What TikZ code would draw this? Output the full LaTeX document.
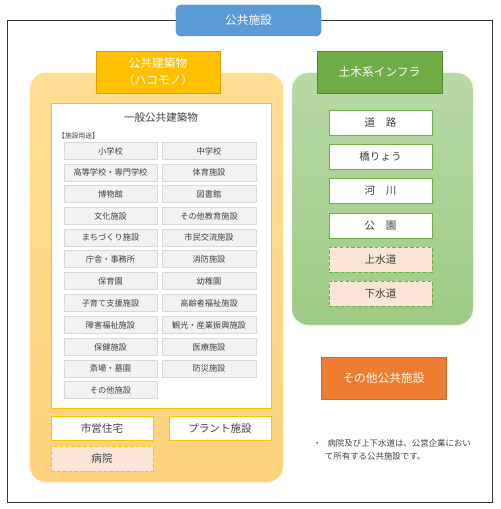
\documentclass[tikz,border=0pt]{standalone}
\usepackage{fontspec}
\setmainfont{Noto Sans CJK JP}
\definecolor{pfblue}{RGB}{91,155,213}
\definecolor{pfgold}{RGB}{255,192,0}
\definecolor{pfgoldline}{RGB}{214,160,0}
\definecolor{pfyellowtop}{RGB}{255,223,150}
\definecolor{pfyellowbot}{RGB}{253,210,122}
\definecolor{pfgreen}{RGB}{112,173,71}
\definecolor{pfgreenline}{RGB}{84,130,53}
\definecolor{pfgreentop}{RGB}{184,217,167}
\definecolor{pfgreenbot}{RGB}{158,203,132}
\definecolor{pforange}{RGB}{237,125,49}
\definecolor{pfpeach}{RGB}{251,229,214}
\definecolor{pfgray}{RGB}{242,242,242}
\definecolor{pfgrayline}{RGB}{217,217,217}
\definecolor{pftext}{RGB}{64,64,64}
\usetikzlibrary{positioning}

\tikzset{
  headbox/.style={inner sep=0pt, font=\fontsize{10}{14.5}\selectfont, text=white, align=center},
  useitem/.style={draw=pfgrayline, fill=pfgray, inner sep=0pt, minimum height=0.51cm,
                  font=\fontsize{7}{8}\selectfont, text=pftext},
  hakoitem/.style={draw=pfgold, fill=white, thick, inner sep=0pt, minimum width=3.06cm,
                   minimum height=0.72cm, font=\fontsize{9}{10}\selectfont, text=pftext},
  infraitem/.style={draw=pfgreen, fill=white, thick, inner sep=0pt, minimum width=3.09cm,
                    minimum height=0.75cm, font=\fontsize{9}{10}\selectfont, text=pftext},
  kigyo/.style={dash pattern=on 3pt off 2pt, fill=pfpeach},
}

\begin{document}
\begin{tikzpicture}[x=0.03cm, y=-0.03cm]
\useasboundingbox (0,0) rectangle (500,509);

% --- Outer frame and title ---
\draw[black!80, semithick] (7,20) rectangle (492,502);
\node[headbox, draw=pfblue!85!black, fill=pfblue, rounded corners=4pt,
      minimum width=4.35cm, minimum height=0.93cm] (koukyou) at (248.5,20.5) {公共施設};

% --- Public buildings (hakomono) ---
\node[draw=pfyellowtop!90!orange, top color=pfyellowtop, bottom color=pfyellowbot, rounded corners=0.5cm,
      minimum width=7.59cm, minimum height=12.27cm] (hako-bg) at (156.5,277.5) {};
\node[headbox, draw=pfgoldline, fill=pfgold, minimum width=3.72cm, minimum height=1.26cm]
      (hako-head) at (158,72) {公共建築物\\（ハコモノ）};

% General buildings panel
\node[draw=pfgold, fill=white, thick, minimum width=6.6cm, minimum height=9.15cm]
      (ippan) at (161,255.5) {};
\node[font=\fontsize{9}{10}\selectfont, text=pftext] (ippan-title) at (161,117) {一般公共建築物};
\node[font=\fontsize{5.8}{6}\selectfont, text=pftext, anchor=west, inner sep=0pt]
      (youto) at (58,136) {【施設用途】};

% Left column
\node[useitem, minimum width=2.79cm] (u-shou)    at (110.5,151)   {小学校};
\node[useitem, minimum width=2.79cm] (u-koutou)  at (110.5,172.5) {高等学校・専門学校};
\node[useitem, minimum width=2.79cm] (u-haku)    at (110.5,194)   {博物館};
\node[useitem, minimum width=2.79cm] (u-bunka)   at (110.5,216)   {文化施設};
\node[useitem, minimum width=2.79cm] (u-machi)   at (110.5,237.5) {まちづくり施設};
\node[useitem, minimum width=2.79cm] (u-chousha) at (110.5,259)   {庁舎・事務所};
\node[useitem, minimum width=2.79cm] (u-hoiku)   at (110.5,281)   {保育園};
\node[useitem, minimum width=2.79cm] (u-kosodate) at (110.5,303)  {子育て支援施設};
\node[useitem, minimum width=2.79cm] (u-shougai) at (110.5,325)   {障害福祉施設};
\node[useitem, minimum width=2.79cm] (u-hoken)   at (110.5,347)   {保健施設};
\node[useitem, minimum width=2.79cm] (u-saijou)  at (110.5,368.5) {斎場・墓園};
\node[useitem, minimum width=2.79cm] (u-sonota)  at (110.5,390)   {その他施設};

% Right column
\node[useitem, minimum width=2.82cm] (u-chuu)    at (209,151)   {中学校};
\node[useitem, minimum width=2.82cm] (u-taiiku)  at (209,172.5) {体育施設};
\node[useitem, minimum width=2.82cm] (u-tosho)   at (209,194)   {図書館};
\node[useitem, minimum width=2.82cm] (u-kyouiku) at (209,216)   {その他教育施設};
\node[useitem, minimum width=2.82cm] (u-shimin)  at (209,237.5) {市民交流施設};
\node[useitem, minimum width=2.82cm] (u-shoubou) at (209,259)   {消防施設};
\node[useitem, minimum width=2.82cm] (u-youchi)  at (209,281)   {幼稚園};
\node[useitem, minimum width=2.82cm] (u-kourei)  at (209,303)   {高齢者福祉施設};
\node[useitem, minimum width=2.82cm] (u-kankou)  at (209,325)   {観光・産業振興施設};
\node[useitem, minimum width=2.82cm] (u-iryou)   at (209,347)   {医療施設};
\node[useitem, minimum width=2.82cm] (u-bousai)  at (209,368.5) {防災施設};

% Housing, plants, hospital
\node[hakoitem] (juutaku) at (102,428) {市営住宅};
\node[hakoitem] (plant)   at (220,428) {プラント施設};
\node[hakoitem, kigyo, minimum height=0.75cm] (byouin) at (102,458.5) {病院};

% --- Civil infrastructure ---
\node[draw=pfgreentop!80!white, top color=pfgreentop, bottom color=pfgreenbot, rounded corners=0.5cm,
      minimum width=5.43cm, minimum height=7.56cm] (infra-bg) at (382.5,199) {};
\node[headbox, draw=pfgreenline, fill=pfgreen, minimum width=3.75cm, minimum height=1.26cm]
      (infra-head) at (379.5,72) {土木系インフラ};

\node[infraitem] (douro)    at (380.5,122.5) {道　路};
\node[infraitem] (kyouryou) at (380.5,156.5) {橋りょう};
\node[infraitem] (kasen)    at (380.5,190.5) {河　川};
\node[infraitem] (kouen)    at (380.5,225.5) {公　園};
\node[infraitem, kigyo] (jousui) at (380.5,259.5) {上水道};
\node[infraitem, kigyo] (gesui)  at (380.5,293.5) {下水道};

% --- Other facilities ---
\node[headbox, draw=pforange!85!black, fill=pforange, minimum width=3.75cm, minimum height=1.26cm]
      (sonota) at (383.5,378) {その他公共施設};

% Note
\node[anchor=north west, inner sep=0pt, align=left, text=pftext,
      font=\fontsize{7.2}{11}\selectfont] (chuki) at (313,439)
      {・\hspace{5pt}病院及び上下水道は、公営企業におい\\\hspace{10pt}て所有する公共施設です。};

\end{tikzpicture}
\end{document}
